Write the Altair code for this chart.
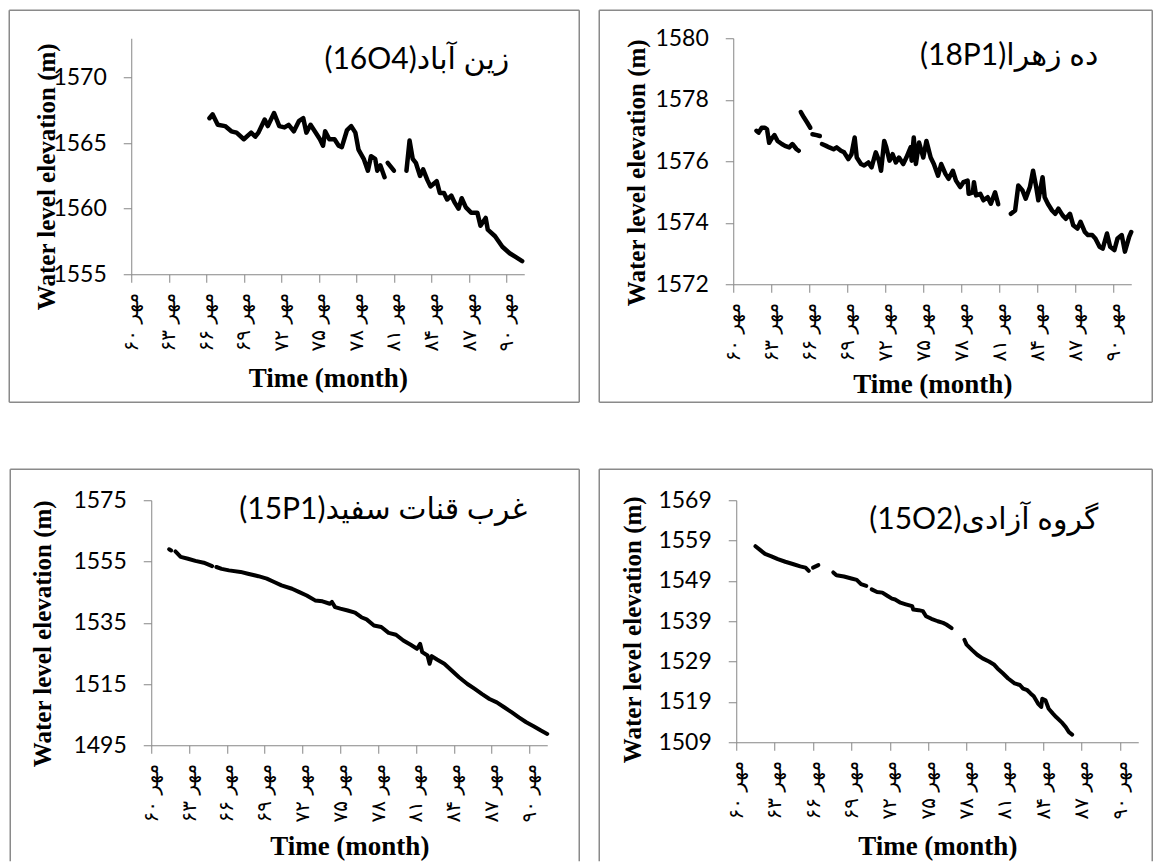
import altair as alt
import pandas as pd

# ---------------- data ----------------
TICK_MONTHS = [0, 36, 72, 108, 144, 180, 216, 252, 288, 324, 360]
TICK_LABELS = ['مهر ۶۰', 'مهر ۶۳', 'مهر ۶۶', 'مهر ۶۹', 'مهر ۷۲', 'مهر ۷۵',
               'مهر ۷۸', 'مهر ۸۱', 'مهر ۸۴', 'مهر ۸۷', 'مهر ۹۰']
X_MAX = 377

TITLES = ['(16O4)زین آباد', '(18P1)ده زهرا', '(15P1)غرب قنات سفید', '(15O2)گروه آزادی']

# Panel 1: زین آباد (16O4)   (None = gap in record)
m1 = [75, 78, 83, 90, 96, 101, 108, 115, 119, 122, 128, 131, 137, 142, 147, 151, 156, 161, 165, 168,
      172, 177, 181, 184, 186, 190, 195, 199, 202, 207, 211, 215, 218, 223, 227, 230, 234, 236, 239, 243,
      244, 246, 252, 258, 264, 267, 270, 273, 277, 280, 284, 287, 293, 296, 300, 303, 307, 310, 314, 317,
      321, 326, 332, 335, 340, 342, 349, 356, 363, 369, 375]
v1 = [1566.9, 1567.2, 1566.4, 1566.3, 1565.9, 1565.8, 1565.3, 1565.8, 1565.5, 1565.8,
      1566.8, 1566.3, 1567.3, 1566.3, 1566.2, 1566.4, 1565.9, 1566.7, 1566.9, 1565.8,
      1566.4, 1565.8, 1565.3, 1564.8, 1565.9, 1565.3, 1565.3, 1564.8, 1564.7, 1566.0,
      1566.3, 1565.8, 1564.5, 1563.8, 1562.9, 1564.0, 1563.8, 1562.9, 1563.3, 1562.4,
      None, 1563.5, 1562.9, None, 1562.9, 1565.2, 1563.8, 1563.5, 1562.5, 1563.0,
      1562.2, 1561.7, 1562.1, 1561.2, 1561.2, 1560.7, 1561.0, 1560.5, 1560.0, 1560.8,
      1560.1, 1559.7, 1559.7, 1558.7, 1559.3, 1558.4, 1557.9, 1557.1, 1556.6, 1556.3, 1556.0]

# Panel 2: ده زهرا (18P1)
m2 = [22, 24, 27, 30, 32, 34, 36, 39, 42, 46, 49, 53, 56, 60, 62, 63, 64, 67, 70, 73,
      74, 75, 79, 82, 83, 84, 88, 91, 95, 98, 102, 105, 109, 112, 115, 117, 121, 124, 128, 131,
      135, 138, 140, 143, 145, 148, 151, 154, 157, 161, 164, 168, 169, 171, 173, 176, 180, 183, 187, 190,
      194, 197, 201, 204, 208, 211, 215, 218, 222, 223, 227, 228, 230, 234, 237, 241, 244, 248, 251, 257,
      263, 267, 270, 274, 277, 281, 284, 287, 289, 293, 295, 298, 302, 305, 308, 312, 315, 319, 322, 326,
      329, 333, 336, 340, 343, 347, 350, 354, 357, 361, 364, 368, 371, 375, 377]
v2 = [1576.99, 1576.93, 1577.09, 1577.09, 1577.04, 1576.6, 1576.72, 1576.85, 1576.66, 1576.56,
      1576.5, 1576.45, 1576.56, 1576.39, 1576.34, None, 1577.6, 1577.42, 1577.26, 1577.09,
      None, 1576.88, 1576.85, 1576.82, None, 1576.56, 1576.5, 1576.45, 1576.39, 1576.45,
      1576.34, 1576.29, 1576.07, 1576.23, 1576.77, 1576.12, 1575.91, 1575.86, 1575.96, 1575.8,
      1576.29, 1576.02, 1575.69, 1576.66, 1576.45, 1576.02, 1576.23, 1575.96, 1576.12, 1575.91,
      1576.12, 1576.45, 1576.02, 1576.77, 1575.91, 1576.61, 1576.12, 1576.66, 1576.12, 1575.91,
      1575.53, 1575.91, 1575.59, 1575.43, 1575.69, 1575.37, 1575.16, 1575.32, 1575.37, 1574.94,
      1574.99, 1575.32, 1574.89, 1574.94, 1574.73, 1574.83, 1574.62, 1574.99, 1574.6, None,
      1574.29, 1574.4, 1575.21, 1575.05, 1574.78, 1575.16, 1575.69, 1575.16, 1574.73, 1575.48,
      1574.83, 1574.62, 1574.4, 1574.29, 1574.46, 1574.24, 1574.13, 1574.29, 1573.92, 1573.81,
      1574.03, 1573.7, 1573.6, 1573.6, 1573.49, 1573.22, 1573.16, 1573.65, 1573.22, 1573.11,
      1573.49, 1573.6, 1573.06, 1573.54, 1573.7]

# Panel 3: غرب قنات سفید (15P1)
m3 = [17, 19, 21, 23, 28, 35, 42, 50, 58, 60, 62, 67, 74, 85, 92, 102, 110, 117, 124, 134,
      141, 148, 156, 163, 170, 172, 175, 180, 187, 194, 200, 205, 212, 219, 226, 233, 240, 247, 253, 256,
      258, 263, 265, 267, 272, 279, 286, 293, 301, 308, 315, 322, 329, 336, 343, 350, 357, 364, 371, 377]
v3 = [1559.0, 1558.6, None, 1558.3, 1556.5, 1555.9, 1555.2, 1554.6, 1553.5, None,
      1553.2, 1552.6, 1552.1, 1551.6, 1551.0, 1550.2, 1549.4, 1548.3, 1547.2, 1546.1,
      1545.0, 1543.9, 1542.3, 1542.0, 1541.2, 1541.8, 1540.1, 1539.6, 1539.0, 1538.3,
      1536.8, 1536.1, 1534.1, 1533.6, 1531.7, 1531.1, 1529.2, 1527.8, 1526.5, 1528.1,
      1525.4, 1524.3, 1521.6, 1524.1, 1523.0, 1521.6, 1519.4, 1517.2, 1515.0, 1513.4,
      1511.7, 1510.1, 1509.0, 1507.4, 1505.8, 1504.1, 1502.5, 1501.2, 1499.8, 1498.7]

# Panel 4: گروه آزادی (15O2)
m4 = [18, 22, 27, 33, 39, 46, 53, 60, 65, 68, 70, 72, 77, 80, 91, 94, 101, 108, 113, 117,
      122, 124, 127, 132, 137, 142, 146, 149, 154, 159, 165, 166, 171, 175, 178, 183, 189, 194, 197, 202,
      208, 214, 216, 221, 226, 231, 237, 242, 245, 250, 255, 261, 266, 269, 273, 276, 279, 283, 286, 287,
      290, 293, 297, 300, 305, 309, 312, 315]
v4 = [1557.6, 1556.75, 1555.7, 1555.1, 1554.4, 1553.75, 1553.2, 1552.6, 1552.3, 1551.5,
      None, 1552.3, 1552.9, None, 1551.1, 1550.4, 1550.1, 1549.6, 1549.25, 1548.2,
      1547.75, None, 1546.9, 1546.25, 1546.1, 1545.25, 1544.6, 1544.4, 1543.6, 1543.2,
      1542.75, 1541.9, 1541.75, 1541.5, 1540.25, 1539.6, 1539.0, 1538.6, 1538.2, 1537.3,
      None, 1534.4, 1533.2, 1531.9, 1530.7, 1529.8, 1529.0, 1528.2, 1527.3, 1526.1,
      1524.8, 1523.6, 1523.2, 1522.3, 1521.9, 1521.1, 1520.4, 1518.6, 1517.75, 1519.8,
      1519.4, 1517.3, 1516.1, 1515.25, 1514.0, 1512.75, 1511.5, 1510.9]

Y_DOMAINS = [[1555, 1573], [1572, 1580], [1495, 1575], [1509, 1569]]
Y_TICKS = [[1555, 1560, 1565, 1570],
           [1572, 1574, 1576, 1578, 1580],
           [1495, 1515, 1535, 1555, 1575],
           [1509, 1519, 1529, 1539, 1549, 1559, 1569]]

for a, b in [(m1, v1), (m2, v2), (m3, v3), (m4, v4)]:
    assert len(a) == len(b), (len(a), len(b))


def to_frame(months, values):
    rows, seg = [], 0
    for m, v in zip(months, values):
        if v is None:
            seg += 1
            continue
        rows.append({'month': m, 'level': v, 'seg': seg})
    return pd.DataFrame(rows)


LABEL_EXPR = "[" + ",".join("'%s'" % t for t in TICK_LABELS) + "][round(datum.value/36)]"
GREY = '#868686'
BOX = '#8a8a8a'


def box(l, t, r, b, closed):
    base = alt.Chart(pd.DataFrame({'k': [0]})).mark_rule(color=BOX, strokeWidth=1.5)
    parts = [base.encode(x=alt.value(l), y=alt.value(t), y2=alt.value(b)),
             base.encode(x=alt.value(r), y=alt.value(t), y2=alt.value(b)),
             base.encode(x=alt.value(l), x2=alt.value(r), y=alt.value(t))]
    if closed:
        parts.append(base.encode(x=alt.value(l), x2=alt.value(r), y=alt.value(b)))
    return parts


def panel(df, title, ydom, yticks, w, h, x0, bx, ytx, yty, xty, tdx, tdy, sw):
    x = alt.X('month:Q', scale=alt.Scale(domain=[0, X_MAX], range=[x0, w], nice=False, zero=False),
              axis=alt.Axis(values=TICK_MONTHS, labelExpr=LABEL_EXPR, labelAngle=270,
                            labelFont='DejaVu Sans', labelFontSize=20, labelPadding=10,
                            labelOverlap=False, labelFlush=False,
                            title='Time (month)', titleFont='Liberation Serif',
                            titleFontWeight='bold', titleFontSize=27,
                            titleY=xty, titleBaseline='middle'))
    y = alt.Y('level:Q', scale=alt.Scale(domain=ydom, nice=False, zero=False),
              axis=alt.Axis(values=yticks, format='d', labelFont='Lato', labelFontSize=23,
                            labelPadding=17, labelOverlap=False, labelFlush=False,
                            offset=-x0,
                            title='Water level elevation (m)', titleFont='Liberation Serif',
                            titleFontWeight='bold', titleFontSize=25,
                            titleAngle=270, titleX=ytx, titleY=yty,
                            titleAlign='center', titleBaseline='middle'))
    line = alt.Chart(df).mark_line(color='black', strokeWidth=sw, strokeJoin='round',
                                   strokeCap='round').encode(x=x, y=y, detail='seg:N')
    return alt.layer(line, *box(*bx)).properties(
        width=w, height=h,
        title=alt.Title(title, anchor='end', frame='group', orient='top', offset=0,
                        font='Lato, DejaVu Sans', fontSize=30, fontWeight='normal',
                        color='black', baseline='alphabetic', dx=tdx, dy=tdy))


p1 = panel(to_frame(m1, v1), TITLES[0], Y_DOMAINS[0], Y_TICKS[0], 393, 236, 0,
           (-122, -28, 448, 364, True), -85, 138, 104, -15, 89, 4.5)
p2 = panel(to_frame(m2, v2), TITLES[1], Y_DOMAINS[1], Y_TICKS[1], 398, 246, 0,
           (-134, -28, 419, 364, True), -97, 134, 100, -33, 85, 4.5)
p3 = panel(to_frame(m3, v3), TITLES[2], Y_DOMAINS[2], Y_TICKS[2], 416, 245, 20,
           (-121, -31, 448, 361, False), -109, 133, 101, -20, 80, 4)
p4 = panel(to_frame(m4, v4), TITLES[3], Y_DOMAINS[3], Y_TICKS[3], 405, 242, 3,
           (-134, -31, 419, 361, False), -104, 129, 104, -40, 90, 4)

chart = alt.concat(p1, p2, p3, p4, columns=2,
                   spacing={'row': 216, 'column': 186},
                   align='each', bounds='flush').properties(
    padding={'left': 8.25, 'top': 9.25, 'right': 0, 'bottom': 0},
    background='white'
).configure_view(stroke=None).configure_axis(
    domainColor=GREY, tickColor=GREY, domainWidth=1, tickWidth=1, tickSize=8,
    grid=False, labelColor='black', titleColor='black')

chart.save("out.html", embed_options={"renderer": "svg", "actions": False})
